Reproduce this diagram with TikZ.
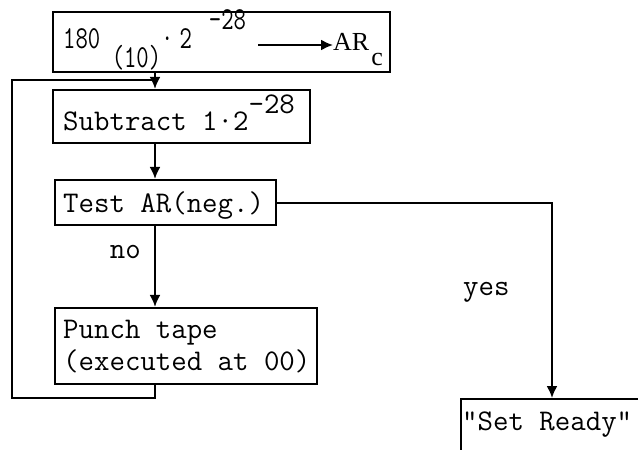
\documentclass[tikz,border=0pt]{standalone}
\usepackage{fontspec}
\setmainfont{Liberation Serif}
\usetikzlibrary{arrows.meta}

\tikzset{
  box/.style={draw, line width=2.2pt, rectangle, inner sep=0pt},
  lbl/.style={inner sep=0pt, anchor=base west, font=\ttfamily\fontsize{30pt}{33pt}\selectfont},
  narrow/.style={inner sep=0pt, anchor=base west, font=\ttfamily\fontsize{32pt}{34pt}\selectfont},
  serif/.style={inner sep=0pt, anchor=base west, font=\fontsize{26pt}{30pt}\selectfont},
  link/.style={line width=2pt},
  arr/.style={link, -{Latex[length=12pt,width=11pt]}}
}

\begin{document}
\begin{tikzpicture}[x=1pt, y=-1pt]
\useasboundingbox (0,0) rectangle (638,450);
\clip (0,0) rectangle (638,450);

% boxes
\node[box, minimum width=337pt, minimum height=60pt] (b1) at (221.5,42) {};
\node[box, minimum width=257pt, minimum height=53pt] (b2) at (181.5,116.5) {};
\node[box, minimum width=221pt, minimum height=45pt] (b3) at (165.5,202.5) {};
\node[box, minimum width=262pt, minimum height=76pt] (b4) at (186,346) {};
\node[box, anchor=north west, minimum width=240pt, minimum height=100pt] (b5) at (460,398) {};

% box texts
\node[narrow] (t1) at (63,48) {\scalebox{0.75}[1]{180\hspace{15.3pt}\raisebox{-19pt}{(10)}·\hspace{8pt}2\hspace{22.7pt}\raisebox{19pt}{-28}}};
\node[serif] (arc) at (333,50) {AR\hspace{2pt}\raisebox{-15pt}{c}};
\node[lbl] (t2) at (63,130) {Subtract 1·2\raisebox{17pt}{-28}};
\node[lbl] (t3) at (63,212) {Test AR(neg.)};
\node[lbl] (t4a) at (63,338) {Punch tape};
\node[lbl] (t4b) at (63,370) {(executed at 00)};
\node[lbl] (t5) at (462,430) {"Set Ready"};

% edge labels
\node[lbl, anchor=base east] (no) at (141,258) {no};
\node[lbl] (yes) at (463,295) {yes};

% routing points
\coordinate (sp) at (155,0);
\coordinate (yx) at (552,0);
\coordinate (a1) at (258,45);
\coordinate (lb) at (12,398);
\coordinate (jn) at (155,80);

% transfer arrow inside the first box
\draw[arr] (a1) -- (arc.west |- a1);

% main flow
\draw[arr] (b1.south -| sp) -- (b2.north -| sp);
\draw[arr] (b2.south -| sp) -- (b3.north -| sp);
\draw[arr] (b3.south -| sp) -- (b4.north -| sp);

% loop back from punch tape
\draw[link] (b4.south -| sp) -- (sp |- lb) -- (lb) |- (jn);

% negative branch
\draw[arr] (b3.east) -| (yx |- b5.north);
\end{tikzpicture}
\end{document}
